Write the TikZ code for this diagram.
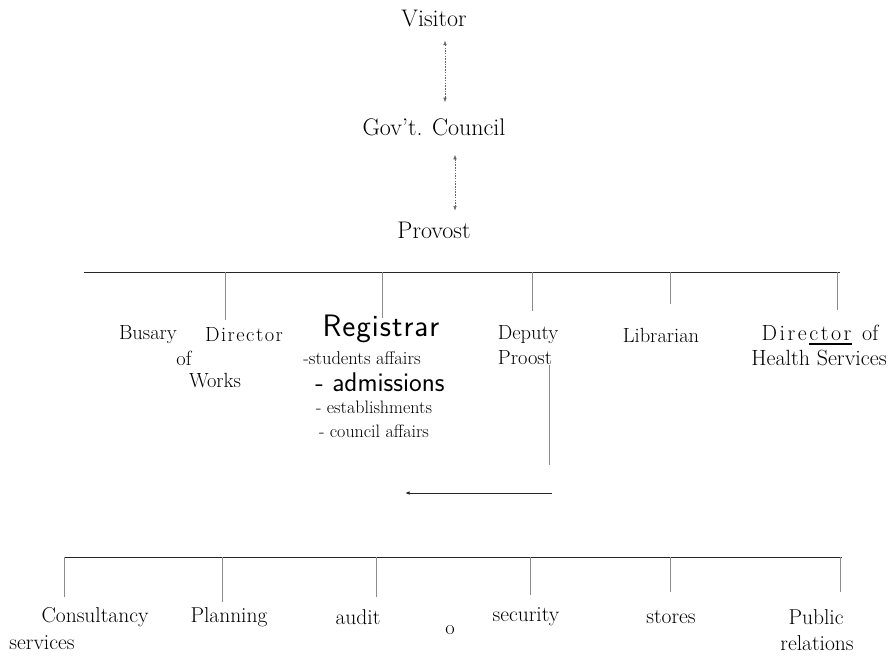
\documentclass[tikz,border=0pt]{standalone}
\usepackage{fontspec}
\usetikzlibrary{arrows.meta}
\tikzset{
  top/.style={inner sep=0pt, font=\fontsize{24}{28}\selectfont},
  lbl/.style={inner sep=0pt, font=\fontsize{20.5}{24}\selectfont},
  sub/.style={inner sep=0pt, font=\fontsize{18.5}{22}\selectfont},
  low/.style={inner sep=0pt, font=\fontsize{21.5}{25}\selectfont},
  reg/.style={inner sep=0pt, font=\sffamily\fontsize{27}{30}\selectfont},
  bar/.style={line width=0.9pt, black!85},
  drop/.style={line width=0.5pt, black!45},
  tip/.style={-{Latex[length=4.5pt,width=3.5pt]}},
  link/.style={line width=0.5pt, black!60, dash pattern=on 1.5pt off 1.2pt,
    {Latex[length=4.5pt,width=3.5pt]}-{Latex[length=4.5pt,width=3.5pt]}},
}
\newcommand{\ulbar}[1]{\setbox0\hbox{#1}\rlap{\rule[-4pt]{\wd0}{1.4pt}}#1}

\begin{document}
\begin{tikzpicture}[x=1pt,y=-1pt]
\useasboundingbox (0,0) rectangle (891,665);

% head of the chart
\node[top] (visitor) at (434,18) {Visitor};
\node[top] (council) at (434,127) {Gov't. Council};
\node[top] (provost) at (434,230) {Provost};
\draw[link, shorten <=14pt, shorten >=16pt] ([xshift=11pt]visitor.south) -- ([xshift=11pt]council.north);
\draw[link, shorten <=19pt, shorten >=11pt] ([xshift=21pt]council.south) -- ([xshift=21pt]provost.north);

% first row
\coordinate (tl) at (84,272);
\coordinate (tr) at (840,272);
\draw[bar] (tl) -- (tr);

\node[lbl] (busary) at (148,335) {Busary};
\node[lbl] (works1) at (244,335) {D\kern1.5pt i\kern1.5pt r\kern1.5pt e\kern1.5pt c\kern1.5pt t\kern1.5pt o\kern1.5pt r};
\node[lbl] (works2) at (184,358) {of};
\node[lbl] (works3) at (215,381) {Works};
\node[reg, font=\sffamily\fontsize{31}{34}\selectfont] (reg) at (381,329) {R\kern1pt e\kern1pt g\kern1pt i\kern1pt s\kern1pt t\kern1pt r\kern1pt a\kern1pt r};
\node[sub] (reg1) at (362,358) {-students affairs};
\node[reg] (reg2) at (380,382) {- admissions};
\node[sub, font=\fontsize{18}{22}\selectfont] (reg3) at (374,407) {- establishments};
\node[sub, font=\fontsize{18}{22}\selectfont] (reg4) at (374,431) {- council affairs};
\node[lbl] (deputy) at (528,335) {Deputy};
\node[lbl] (proost) at (525,358) {Proost};
\node[lbl] (lib) at (661,335) {Librarian};
\node[lbl, font=\fontsize{22}{26}\selectfont] (health1) at (820,335)
  {D\kern2.5pt i\kern2.5pt r\kern2.5pt e\kern2.5pt \ulbar{c\kern2.5pt t\kern2.5pt o\kern2.5pt r}\kern4pt{} of};
\node[lbl, font=\fontsize{22}{26}\selectfont] (health2) at (819,358) {Health Services};

\coordinate (p1) at (225,320);
\coordinate (p2) at (382,318);
\coordinate (p3) at (532,311);
\coordinate (p4) at (670,304);
\coordinate (p5) at (837,310);
\foreach \p in {p1,p2,p3,p4,p5}
  \draw[drop] (tl -| \p) -- (\p);

% deputy provost link
\coordinate (dp) at (549,465);
\coordinate (hr) at (552,493);
\coordinate (hl) at (405,493);
\draw[drop] (dp |- proost.south) -- (dp);
\draw[bar, tip] (hr) -- (hl);

% second row
\coordinate (bl) at (64,557);
\coordinate (br) at (842,557);
\draw[bar] (bl) -- (br);

\node[low] (cons1) at (95,617) {Consultancy};
\node[low] (cons2) at (42,643) {services};
\node[low] (plan) at (229,617) {Planning};
\node[low] (audit) at (358,617) {audit};
\node[lbl] (o) at (450,630) {o};
\node[low] (sec) at (526,617) {security};
\node[low] (stores) at (671,617) {stores};
\node[low] (pub1) at (816,617) {Public};
\node[low] (pub2) at (817,643) {relations};

\coordinate (q1) at (64,597);
\coordinate (q2) at (222,602);
\coordinate (q3) at (376,597);
\coordinate (q4) at (530,595);
\coordinate (q5) at (670,592);
\coordinate (q6) at (840,592);
\foreach \q in {q1,q2,q3,q4,q5,q6}
  \draw[drop] (bl -| \q) -- (\q);
\end{tikzpicture}
\end{document}
